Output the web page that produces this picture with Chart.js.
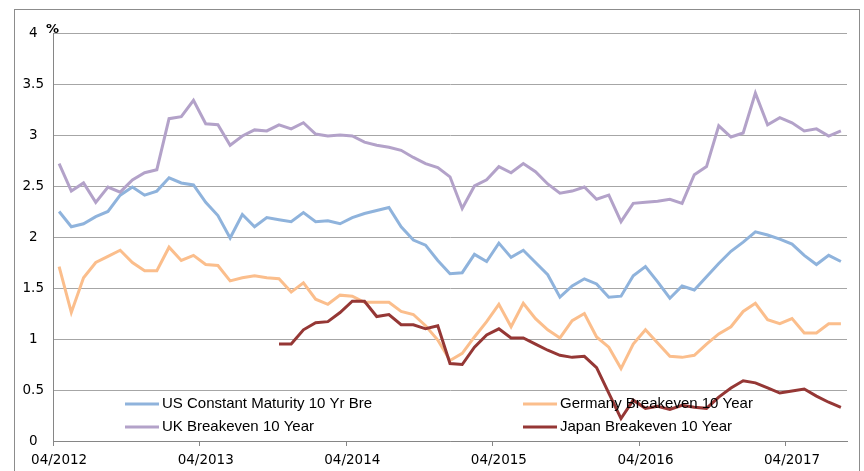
<!DOCTYPE html>
<html>
<head>
<meta charset="utf-8">
<script src="https://cdn.jsdelivr.net/npm/chart.js@4.4.1/dist/chart.umd.min.js"></script>
<style>
  html, body { margin: 0; padding: 0; background: #fff; }
  #wrap { position: relative; width: 864px; height: 471px; }
  #frame { position: absolute; left: 14px; top: 9px; width: 846px; height: 480px; border: 1px solid #8c8c8c; box-sizing: border-box; }
  canvas { position: absolute; left: 0; top: 0; }
</style>
</head>
<body>
<div id="wrap">
  <div id="frame"></div>
  <canvas id="chart" width="864" height="471"></canvas>
</div>
<script>
// monthly, 04/2012 .. 08/2017
const months = [
  '04/2012','05/2012','06/2012','07/2012','08/2012','09/2012','10/2012','11/2012','12/2012',
  '01/2013','02/2013','03/2013','04/2013','05/2013','06/2013','07/2013','08/2013','09/2013','10/2013','11/2013','12/2013',
  '01/2014','02/2014','03/2014','04/2014','05/2014','06/2014','07/2014','08/2014','09/2014','10/2014','11/2014','12/2014',
  '01/2015','02/2015','03/2015','04/2015','05/2015','06/2015','07/2015','08/2015','09/2015','10/2015','11/2015','12/2015',
  '01/2016','02/2016','03/2016','04/2016','05/2016','06/2016','07/2016','08/2016','09/2016','10/2016','11/2016','12/2016',
  '01/2017','02/2017','03/2017','04/2017','05/2017','06/2017','07/2017','08/2017'
];

const usBreakeven = [
  2.25, 2.10, 2.13, 2.20, 2.25, 2.41, 2.49, 2.41, 2.45, 2.58, 2.53, 2.51,
  2.34, 2.21, 1.99, 2.22, 2.10, 2.19, 2.17, 2.15, 2.24, 2.15, 2.16, 2.13,
  2.19, 2.23, 2.26, 2.29, 2.10, 1.97, 1.92, 1.77, 1.64, 1.65, 1.83, 1.76,
  1.94, 1.80, 1.87, 1.75, 1.63, 1.41, 1.52, 1.59, 1.54, 1.41, 1.42, 1.62,
  1.71, 1.56, 1.40, 1.52, 1.48, 1.61, 1.74, 1.86, 1.95, 2.05, 2.02, 1.98,
  1.93, 1.82, 1.73, 1.82, 1.76
];

const germanyBreakeven = [
  1.71, 1.26, 1.60, 1.75, 1.81, 1.87, 1.75, 1.67, 1.67, 1.90, 1.77, 1.82,
  1.73, 1.72, 1.57, 1.60, 1.62, 1.60, 1.59, 1.46, 1.55, 1.39, 1.34, 1.43,
  1.42, 1.36, 1.36, 1.36, 1.27, 1.24, 1.13, 0.99, 0.79, 0.86, 1.02, 1.17,
  1.34, 1.12, 1.35, 1.20, 1.09, 1.01, 1.18, 1.25, 1.02, 0.92, 0.71, 0.95,
  1.09, 0.96, 0.83, 0.82, 0.84, 0.95, 1.05, 1.12, 1.27, 1.35, 1.19, 1.15,
  1.20, 1.06, 1.06, 1.15, 1.15
];

const ukBreakeven = [
  2.72, 2.45, 2.53, 2.34, 2.49, 2.44, 2.56, 2.63, 2.66, 3.16, 3.18, 3.34,
  3.11, 3.10, 2.90, 2.99, 3.05, 3.04, 3.10, 3.06, 3.12, 3.01, 2.99, 3.00,
  2.99, 2.93, 2.90, 2.88, 2.85, 2.78, 2.72, 2.68, 2.59, 2.28, 2.50, 2.56,
  2.69, 2.63, 2.72, 2.64, 2.52, 2.43, 2.45, 2.49, 2.37, 2.41, 2.15, 2.33,
  2.34, 2.35, 2.37, 2.33, 2.61, 2.69, 3.09, 2.98, 3.02, 3.41, 3.10, 3.17,
  3.12, 3.04, 3.06, 2.99, 3.04
];

const japanBreakeven = [
  null, null, null, null, null, null, null, null, null, null, null, null,
  null, null, null, null, null, null, 0.95, 0.95, 1.09, 1.16, 1.17, 1.26,
  1.37, 1.37, 1.22, 1.24, 1.14, 1.14, 1.10, 1.13, 0.76, 0.75, 0.92, 1.04,
  1.10, 1.01, 1.01, 0.95, 0.89, 0.84, 0.82, 0.83, 0.72, 0.47, 0.22, 0.40,
  0.32, 0.34, 0.31, 0.35, 0.33, 0.32, 0.43, 0.52, 0.59, 0.57, 0.52, 0.47,
  0.49, 0.51, 0.44, 0.38, 0.33
];

const seriesNames = [
  'US Constant Maturity 10 Yr Bre',
  'Germany Breakeven 10 Year',
  'UK Breakeven 10 Year',
  'Japan Breakeven 10 Year'
];

const gridGray = '#a6a6a6';
const axisGray = '#868686';
const tickFont = { family: '"DejaVu Sans", sans-serif', size: 13.5 };

function line(label, data, color, order) {
  return {
    label, data, borderColor: color, backgroundColor: color,
    borderWidth: 3, pointRadius: 0, tension: 0, fill: false, order
  };
}

// legend is drawn inside the plot, two columns, like the original
const insideLegend = {
  id: 'insideLegend',
  afterDraw(chart) {
    const ctx = chart.ctx;
    const spots = [[125, 404], [523, 404], [125, 427], [523, 427]];
    ctx.save();
    ctx.font = '15px "Liberation Sans", Arial, sans-serif';
    ctx.textBaseline = 'middle';
    ctx.fillStyle = '#000';
    chart.data.datasets.forEach((ds, i) => {
      const [x, y] = spots[i];
      ctx.strokeStyle = ds.borderColor;
      ctx.lineWidth = 3;
      ctx.beginPath();
      ctx.moveTo(x, y);
      ctx.lineTo(x + 34, y);
      ctx.stroke();
      ctx.fillText(ds.label, x + 37, y);
    });
    // unit mark at top of the value axis
    ctx.font = 'bold 13px "DejaVu Sans", sans-serif';
    ctx.fillText('%', chart.chartArea.left - 7, chart.chartArea.top - 3);
    ctx.restore();
  }
};

new Chart(document.getElementById('chart'), {
  type: 'line',
  data: {
    labels: months,
    datasets: [
      line(seriesNames[0], usBreakeven, '#8fb3dc', 4),
      line(seriesNames[1], germanyBreakeven, '#fbbe8c', 3),
      line(seriesNames[2], ukBreakeven, '#b3a2c9', 2),
      line(seriesNames[3], japanBreakeven, '#953735', 1)
    ]
  },
  options: {
    responsive: false,
    animation: false,
    layout: { padding: { left: 0, right: 17, top: 33, bottom: 0 } },
    plugins: { legend: { display: false }, tooltip: { enabled: false }, title: { display: false } },
    scales: {
      x: {
        offset: true,
        afterFit(s) { s.height = 30; },
        grid: {
          offset: true,
          drawOnChartArea: false,
          tickLength: 5,
          color: c => (c.index % 12 === 0 ? axisGray : 'rgba(0,0,0,0)')
        },
        border: { color: axisGray, width: 1 },
        ticks: {
          autoSkip: false, maxRotation: 0, padding: 6,
          color: '#000',
          font: tickFont,
          callback(v, i) { return i % 12 === 0 ? months[i] : ''; }
        }
      },
      y: {
        min: 0, max: 4,
        afterFit(s) { s.width = 53; },
        grid: { color: gridGray, lineWidth: 1, drawTicks: false },
        border: { color: axisGray, width: 1 },
        ticks: {
          stepSize: 0.5, padding: 9, crossAlign: 'center',
          color: '#000',
          font: tickFont,
          callback(v) { return String(v); }
        }
      }
    }
  },
  plugins: [insideLegend]
});
</script>
</body>
</html>
